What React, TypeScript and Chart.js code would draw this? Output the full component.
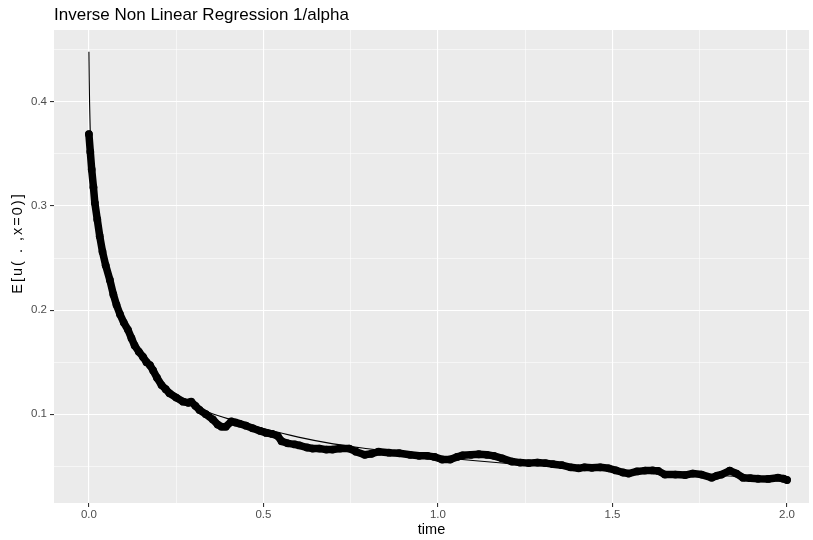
import React, { useEffect, useRef } from "react";
import { Chart, registerables } from "chart.js";

Chart.register(...registerables);

// ---- data ----
const obsTime = [
  0.000, 0.004, 0.008, 0.013, 0.017, 0.024, 0.031, 0.039, 0.048, 0.060,
  0.070, 0.079, 0.089, 0.100, 0.112, 0.122, 0.131, 0.143, 0.155, 0.165,
  0.175, 0.184, 0.195, 0.208, 0.220, 0.231, 0.250, 0.270, 0.285, 0.293,
  0.305, 0.317, 0.335, 0.355, 0.369, 0.380, 0.392, 0.408, 0.420, 0.431,
  0.450, 0.469, 0.490, 0.508, 0.525, 0.541, 0.552, 0.570, 0.590, 0.603,
  0.625, 0.641, 0.660, 0.680, 0.698, 0.720, 0.746, 0.765, 0.790, 0.810,
  0.830, 0.860, 0.889, 0.920, 0.946, 0.970, 0.990, 1.012, 1.035, 1.055,
  1.070, 1.095, 1.117, 1.140, 1.160, 1.184, 1.212, 1.235, 1.260, 1.285,
  1.308, 1.330, 1.355, 1.380, 1.403, 1.420, 1.441, 1.465, 1.489, 1.510,
  1.530, 1.546, 1.570, 1.593, 1.615, 1.631, 1.650, 1.680, 1.708, 1.730,
  1.755, 1.784, 1.800, 1.812, 1.836, 1.855, 1.874, 1.895, 1.917, 1.946,
  1.974, 1.990, 2.000,
];
const obsValue = [
  0.369, 0.352, 0.335, 0.318, 0.303, 0.287, 0.271, 0.256, 0.243, 0.229,
  0.215, 0.205, 0.196, 0.188, 0.181, 0.173, 0.166, 0.160, 0.155, 0.150,
  0.147, 0.142, 0.135, 0.128, 0.124, 0.120, 0.116, 0.112, 0.111, 0.112,
  0.108, 0.104, 0.100, 0.095, 0.090, 0.088, 0.088, 0.093, 0.092, 0.091,
  0.089, 0.0865, 0.084, 0.082, 0.081, 0.079, 0.074, 0.072, 0.071, 0.070,
  0.068, 0.067, 0.067, 0.066, 0.066, 0.067, 0.067, 0.064, 0.061, 0.062,
  0.064, 0.063, 0.0625, 0.061, 0.060, 0.060, 0.059, 0.0565, 0.0565, 0.059,
  0.0605, 0.061, 0.0615, 0.061, 0.060, 0.0575, 0.0545, 0.0535, 0.053, 0.0535,
  0.053, 0.052, 0.051, 0.049, 0.048, 0.049, 0.0485, 0.049, 0.048, 0.046,
  0.044, 0.043, 0.045, 0.0458, 0.046, 0.0455, 0.042, 0.042, 0.0415, 0.043,
  0.042, 0.039, 0.041, 0.042, 0.0458, 0.043, 0.039, 0.0385, 0.038, 0.0378,
  0.039, 0.038, 0.0368,
];

const fitTime = [
  0, 0.001, 0.002, 0.004, 0.007, 0.012, 0.02, 0.03, 0.045, 0.06, 0.08, 0.1,
  0.13, 0.16, 0.2, 0.25, 0.3, 0.35, 0.4, 0.5, 0.6, 0.7, 0.8, 0.9, 1.0, 1.1,
  1.2, 1.3, 1.4, 1.5, 1.6, 1.7, 1.8, 1.9, 2.0,
];
const fitValue = [
  0.448, 0.42, 0.398, 0.37, 0.345, 0.318, 0.296, 0.277, 0.255, 0.232, 0.208,
  0.19, 0.168, 0.151, 0.134, 0.119, 0.108, 0.101, 0.0955, 0.0862, 0.078,
  0.0715, 0.0668, 0.0627, 0.0588, 0.0555, 0.0527, 0.0502, 0.048, 0.046,
  0.0442, 0.0426, 0.0411, 0.0397, 0.0385,
];

const xMajorTicks = [0, 0.5, 1, 1.5, 2];
const xMajorLabels = ["0.0", "0.5", "1.0", "1.5", "2.0"];
const xMinorTicks = [0.25, 0.75, 1.25, 1.75];
const yMajorTicks = [0.1, 0.2, 0.3, 0.4];
const yMajorLabels = ["0.1", "0.2", "0.3", "0.4"];
const yMinorTicks = [0.05, 0.15, 0.25, 0.35, 0.45];

const chartTitle = "Inverse Non Linear Regression 1/alpha";
const xAxisTitle = "time";
const yAxisTitle = "E[u( . ,x=0)]";

const FONT = '"Liberation Sans", Arial, Helvetica, sans-serif';

function majorIndex(list: number[], v: number): number {
  for (let i = 0; i < list.length; i++) {
    if (Math.abs(list[i] - v) < 1e-9) return i;
  }
  return -1;
}

const panelPlugin = {
  id: "panelBg",
  beforeDraw(chart: any) {
    const { ctx, chartArea } = chart;
    ctx.save();
    ctx.fillStyle = "#FFFFFF";
    ctx.fillRect(0, 0, chart.width, chart.height);
    ctx.fillStyle = "#EBEBEB";
    ctx.fillRect(
      chartArea.left,
      chartArea.top,
      chartArea.right - chartArea.left,
      chartArea.bottom - chartArea.top
    );
    ctx.restore();
  },
  afterDraw(chart: any) {
    const { ctx } = chart;
    ctx.save();
    ctx.fillStyle = "#000000";
    ctx.font = `17px ${FONT}`;
    ctx.textAlign = "left";
    ctx.textBaseline = "alphabetic";
    ctx.fillText(chartTitle, 54, 19.5);
    ctx.restore();

    // y axis title
    ctx.save();
    ctx.fillStyle = "#000000";
    ctx.font = `14.5px ${FONT}`;
    try {
      (ctx as any).letterSpacing = "2px";
    } catch (e) {}
    ctx.translate(18, 243);
    ctx.rotate(-Math.PI / 2);
    ctx.textAlign = "center";
    ctx.textBaseline = "middle";
    ctx.fillText(yAxisTitle, 0, 0);
    ctx.restore();
  },
};

export default function App() {
  const ref = useRef<HTMLCanvasElement | null>(null);

  useEffect(() => {
    if (!ref.current) return;
    const obsData = obsTime.map((t, i) => ({ x: t, y: obsValue[i] }));
    const fitData = fitTime.map((t, i) => ({ x: t, y: fitValue[i] }));

    const chart = new Chart(ref.current, {
      type: "line",
      data: {
        datasets: [
          {
            label: "fit",
            data: fitData,
            borderColor: "#000000",
            borderWidth: 1.1,
            pointRadius: 0,
            fill: false,
            cubicInterpolationMode: "monotone",
            order: 0,
          },
          {
            label: "observed",
            data: obsData,
            borderColor: "#000000",
            backgroundColor: "#000000",
            borderWidth: 7.5,
            borderJoinStyle: "round",
            borderCapStyle: "round",
            pointRadius: 3.9,
            pointBorderWidth: 0,
            pointBackgroundColor: "#000000",
            fill: false,
            tension: 0,
            order: 1,
          },
        ],
      },
      options: {
        responsive: false,
        animation: false,
        parsing: false,
        normalized: true,
        events: [],
        layout: { padding: { top: 30, right: 2, left: 0, bottom: 0 } },
        plugins: {
          legend: { display: false },
          title: { display: false },
          tooltip: { enabled: false },
        },
        scales: {
          x: {
            type: "linear",
            min: -0.1,
            max: 2.063,
            afterBuildTicks: (s: any) => {
              s.ticks = [...xMajorTicks, ...xMinorTicks]
                .sort((a, b) => a - b)
                .map((v) => ({ value: v }));
            },
            afterFit: (s: any) => {
              s.height = 37;
            },
            border: { display: false },
            grid: {
              color: "#FFFFFF",
              lineWidth: (c: any) =>
                majorIndex(xMajorTicks, c.tick ? c.tick.value : NaN) >= 0 ? 1.1 : 0.55,
              tickColor: (c: any) =>
                majorIndex(xMajorTicks, c.tick ? c.tick.value : NaN) >= 0
                  ? "#333333"
                  : "rgba(0,0,0,0)",
              tickWidth: 1.1,
              tickLength: 4,
              drawTicks: true,
            },
            ticks: {
              autoSkip: false,
              maxRotation: 0,
              minRotation: 0,
              padding: 1,
              color: "#4D4D4D",
              font: { family: FONT, size: 11.5 },
              callback: (v: any) => {
                const i = majorIndex(xMajorTicks, Number(v));
                return i >= 0 ? xMajorLabels[i] : "";
              },
            },
            title: {
              display: true,
              text: xAxisTitle,
              color: "#000000",
              font: { family: FONT, size: 14.5 },
              padding: { top: 0, bottom: 1.3 },
            },
          },
          y: {
            type: "linear",
            min: 0.0147,
            max: 0.469,
            afterBuildTicks: (s: any) => {
              s.ticks = [...yMajorTicks, ...yMinorTicks]
                .sort((a, b) => a - b)
                .map((v) => ({ value: v }));
            },
            afterFit: (s: any) => {
              s.width = 54;
            },
            border: { display: false },
            grid: {
              color: "#FFFFFF",
              lineWidth: (c: any) =>
                majorIndex(yMajorTicks, c.tick ? c.tick.value : NaN) >= 0 ? 1.1 : 0.55,
              tickColor: (c: any) =>
                majorIndex(yMajorTicks, c.tick ? c.tick.value : NaN) >= 0
                  ? "#333333"
                  : "rgba(0,0,0,0)",
              tickWidth: 1.1,
              tickLength: 4,
              drawTicks: true,
            },
            ticks: {
              autoSkip: false,
              padding: 3,
              color: "#4D4D4D",
              font: { family: FONT, size: 11.5 },
              callback: (v: any) => {
                const i = majorIndex(yMajorTicks, Number(v));
                return i >= 0 ? yMajorLabels[i] : "";
              },
            },
            title: { display: false },
          },
        },
      },
      plugins: [panelPlugin],
    });

    return () => {
      chart.destroy();
    };
  }, []);

  return (
    <div style={{ position: "fixed", left: 0, top: 0, width: 813, height: 540, background: "#FFFFFF" }}>
      <canvas ref={ref} width={813} height={540} style={{ display: "block", width: 813, height: 540 }} />
    </div>
  );
}
